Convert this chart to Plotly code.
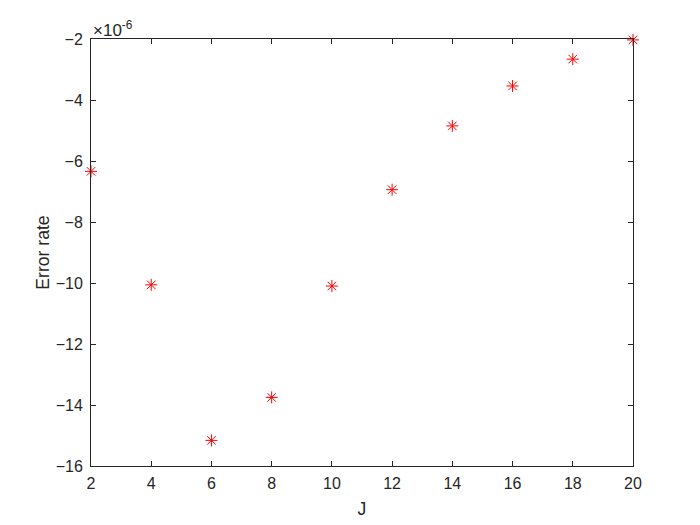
import plotly.graph_objects as go

# J values and error rate (in units of 1e-6)
j_values = [2, 4, 6, 8, 10, 12, 14, 16, 18, 20]
error_rate_e6 = [-6.34, -10.06, -15.16, -13.75, -10.1, -6.94, -4.85, -3.54, -2.66, -2.03]

x_ticks = [2, 4, 6, 8, 10, 12, 14, 16, 18, 20]
y_ticks = [-16, -14, -12, -10, -8, -6, -4, -2]

axis_color = "#262626"
family = "Liberation Sans, Arial, sans-serif"
tick_font = dict(family=family, size=16, color=axis_color)
label_font = dict(family=family, size=17.6, color=axis_color)

fig = go.Figure()
fig.add_trace(go.Scatter(
    x=j_values, y=error_rate_e6, mode="markers",
    marker=dict(symbol="asterisk-open", size=10, color="red",
                line=dict(color="red", width=1)),
    cliponaxis=False, showlegend=False,
))

axis_common = dict(
    showline=True, linecolor=axis_color, linewidth=1, mirror="ticks",
    ticks="inside", ticklen=5, tickcolor=axis_color, tickwidth=1,
    showgrid=False, zeroline=False, tickfont=tick_font,
)
fig.update_xaxes(range=[2, 20], tickvals=x_ticks, ticklabelstandoff=3,
                 title=dict(text="J", font=label_font, standoff=11), **axis_common)
fig.update_yaxes(range=[-16, -2], tickvals=y_ticks, ticklabelstandoff=4,
                 title=dict(text="Error rate", font=label_font, standoff=1), **axis_common)

fig.add_annotation(text="×10<sup>-6</sup>", xref="paper", yref="paper",
                   x=0, y=1, xanchor="left", yanchor="bottom", showarrow=False,
                   font=dict(family=family, size=17, color=axis_color),
                   xshift=0, yshift=-3)

# the page body adds an 8px offset, so margins are shifted to compensate
fig.update_layout(
    width=700, height=525,
    margin=dict(l=83, r=75, t=31, b=67),
    plot_bgcolor="white", paper_bgcolor="white",
    font=tick_font,
)
fig.write_html("out.html")
